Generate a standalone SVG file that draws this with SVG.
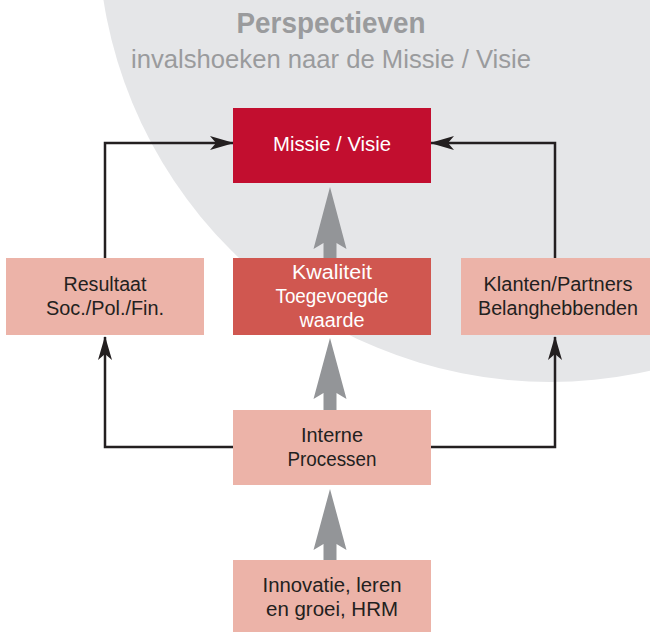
<svg xmlns="http://www.w3.org/2000/svg" width="650" height="633" viewBox="0 0 650 633">
<defs>
<style>
.t{font-family:"Liberation Sans",Arial,sans-serif;font-size:20px;text-anchor:middle;fill:#231f20}
.w{fill:#ffffff}
.h{font-family:"Liberation Sans",Arial,sans-serif;fill:#9a9b9d;text-anchor:middle}
.ln{fill:none;stroke:#231f20;stroke-width:2.5}
.ga{fill:#939598}
.pink{fill:#ecb3a8}
</style>
<marker id="ah" viewBox="0 0 24 14" refX="23" refY="7" markerWidth="24" markerHeight="14" markerUnits="userSpaceOnUse" orient="auto">
<path d="M0,0 L24,7 L0,14 L6,7 Z" fill="#231f20"/>
</marker>
</defs>
<rect width="650" height="633" fill="#ffffff"/>
<circle cx="550" cy="-70" r="452" fill="#e5e6e8"/>
<g id="title">
<text class="h" x="331" y="33" font-size="30" font-weight="bold" textLength="189" lengthAdjust="spacingAndGlyphs">Perspectieven</text>
<text class="h" x="331" y="68" font-size="25" textLength="400" lengthAdjust="spacingAndGlyphs">invalshoeken naar de Missie / Visie</text>
</g>
<g id="connectors">
<polyline class="ln" points="105,258 105,143 233,143" marker-end="url(#ah)"/>
<polyline class="ln" points="555,258 555,143 431,143" marker-end="url(#ah)"/>
<polyline class="ln" points="233,447 105,447 105,337" marker-end="url(#ah)"/>
<polyline class="ln" points="431,447 555,447 555,337" marker-end="url(#ah)"/>
<path class="ga" d="M330,187 L346.5,249 L336.5,243 L336.5,258 L323.5,258 L323.5,243 L313.5,249 Z"/>
<path class="ga" d="M330,338 L346.5,399 L336.5,393 L336.5,410 L323.5,410 L323.5,393 L313.5,399 Z"/>
<path class="ga" d="M330,489 L346.5,550 L336.5,544 L336.5,560 L323.5,560 L323.5,544 L313.5,550 Z"/>
</g>
<g id="missie">
<rect x="233" y="108" width="198" height="75" fill="#c20e2f"/>
<text class="t w" x="332" y="151" textLength="118" lengthAdjust="spacingAndGlyphs">Missie / Visie</text>
</g>
<g id="kwaliteit">
<rect x="233" y="258" width="198" height="77" fill="#d05750"/>
<text class="t w" x="332" y="279" textLength="80" lengthAdjust="spacingAndGlyphs">Kwaliteit</text>
<text class="t w" x="332" y="303" textLength="113" lengthAdjust="spacingAndGlyphs">Toegevoegde</text>
<text class="t w" x="332" y="327" textLength="65" lengthAdjust="spacingAndGlyphs">waarde</text>
</g>
<g id="resultaat">
<rect class="pink" x="6" y="258" width="198" height="77"/>
<text class="t" x="105" y="291" textLength="83" lengthAdjust="spacingAndGlyphs">Resultaat</text>
<text class="t" x="105" y="315" textLength="118" lengthAdjust="spacingAndGlyphs">Soc./Pol./Fin.</text>
</g>
<g id="klanten">
<rect class="pink" x="461" y="258" width="189" height="77"/>
<text class="t" x="558" y="291" textLength="149" lengthAdjust="spacingAndGlyphs">Klanten/Partners</text>
<text class="t" x="558" y="315" textLength="160" lengthAdjust="spacingAndGlyphs">Belanghebbenden</text>
</g>
<g id="interne">
<rect class="pink" x="233" y="410" width="198" height="75"/>
<text class="t" x="332" y="442" textLength="62" lengthAdjust="spacingAndGlyphs">Interne</text>
<text class="t" x="332" y="466" textLength="89" lengthAdjust="spacingAndGlyphs">Processen</text>
</g>
<g id="innovatie">
<rect class="pink" x="233" y="560" width="198" height="72"/>
<text class="t" x="332" y="592" textLength="139" lengthAdjust="spacingAndGlyphs">Innovatie, leren</text>
<text class="t" x="332" y="616" textLength="132" lengthAdjust="spacingAndGlyphs">en groei, HRM</text>
</g>
</svg>
